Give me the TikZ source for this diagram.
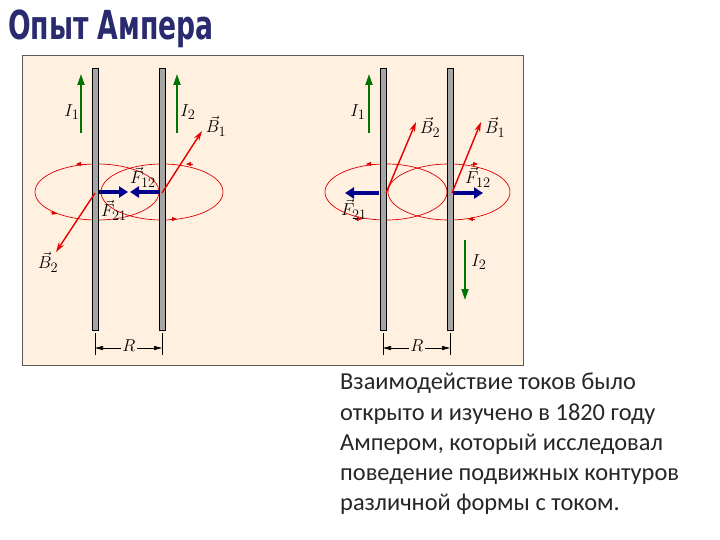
\documentclass[tikz,border=0pt]{standalone}
\usepackage{fontspec}
\setsansfont{Carlito}
\newfontfamily\titlefont{DejaVu Sans Condensed}
\usetikzlibrary{arrows.meta}
\begin{document}
\begin{tikzpicture}[x=1pt,y=-1pt,
  wire/.style={fill=gray!70,draw=black,line width=0.9pt},
  cur/.style={draw=green!45!black,line width=1.8pt,-{Triangle[length=11pt,width=7pt]}},
  field/.style={draw=red!90!black,line width=1.4pt,-{Stealth[length=10pt,width=6pt]}},
  loop/.style={draw=red!85!black,line width=0.7pt},
  tick/.style={draw=red!85!black,-{Triangle[length=5pt,width=4pt]}},
  force/.style={draw=blue!55!black,line width=4.5pt,-{Triangle[length=9pt,width=11pt]}},
  lab/.style={font=\fontsize{19}{19}\selectfont,inner sep=0},
  dim/.style={draw=black,line width=0.7pt,{Triangle[length=8pt,width=4pt]}-{Triangle[length=8pt,width=4pt]}}]
\useasboundingbox (0,0) rectangle (720,540);
\node[anchor=west,font=\titlefont\bfseries\fontsize{40}{40}\selectfont,text=gray!55!blue!60!black,inner sep=0,xscale=0.74] (title) at (8,29) {Опыт Ампера};
\draw[fill=orange!12,draw=gray!70!black,line width=0.6pt] (22,55) rectangle (523,365);
% left panel
\draw[loop] (97,192) ellipse (62 and 28);
\draw[loop] (162,192) ellipse (61 and 28);
\draw[tick] (83,164)--(76,164);
\draw[tick] (50,212)--(57,214);
\draw[tick] (193,164)--(186,164);
\draw[tick] (170,219)--(177,219);
\filldraw[wire] (92,68) rectangle (98,330);
\filldraw[wire] (159,68) rectangle (165,330);
\draw[cur] (81,133)--(81,74);
\draw[cur] (177,133)--(177,74);
\node[lab] (i1) at (72,112) {$I_1$};
\node[lab] (i2) at (188,112) {$I_2$};
\coordinate (w1) at (95,193);
\coordinate (w2) at (162,193);
\draw[field] (w2)--(202,131);
\draw[field] (w1)--(56,252);
\node[lab] (b1) at (216,126) {$\vec B_1$};
\node[lab] (b2) at (48,262) {$\vec B_2$};
\draw[force] (99,192)--(128,192);
\draw[force] (159,192)--(130,192);
\node[lab] (f12) at (143,177) {$\vec F_{12}$};
\node[lab] (f21) at (114,210) {$\vec F_{21}$};
\draw (95,333)--(95,355) (162,333)--(162,355);
\draw[dim] (95,348)--(162,348);
\node[lab,fill=orange!12,inner sep=1pt] (r1) at (129,346) {$R$};
% right panel
\draw[loop] (386,192) ellipse (61 and 28);
\draw[loop] (449,192) ellipse (61 and 28);
\draw[tick] (373,164)--(366,164);
\draw[tick] (355,219)--(362,219);
\draw[tick] (471,164)--(478,164);
\draw[tick] (475,219)--(468,219);
\filldraw[wire] (380,68) rectangle (386,330);
\filldraw[wire] (447,68) rectangle (453,330);
\draw[cur] (369,133)--(369,74);
\draw[cur] (465,240)--(465,300);
\node[lab] (i1r) at (358,112) {$I_1$};
\node[lab] (i2r) at (479,262) {$I_2$};
\coordinate (v1) at (386,193);
\coordinate (v2) at (452,193);
\draw[field] (v1)--(416,122);
\draw[field] (v2)--(481,122);
\node[lab] (b2r) at (430,127) {$\vec B_2$};
\node[lab] (b1r) at (495,127) {$\vec B_1$};
\draw[force] (379,193)--(345,193);
\draw[force] (454,193)--(483,193);
\node[lab] (f21r) at (354,209) {$\vec F_{21}$};
\node[lab] (f12r) at (478,177) {$\vec F_{12}$};
\draw (383,333)--(383,355) (450,333)--(450,355);
\draw[dim] (383,348)--(450,348);
\node[lab,fill=orange!12,inner sep=1pt] (r2) at (417,346) {$R$};
% text
\node[anchor=north west,align=left,font=\sffamily\fontsize{24.4}{30.2}\selectfont,text=black!85,inner sep=0] (txt) at (340,373)
{Взаимодействие токов было\\открыто и изучено в 1820 году\\Ампером, который исследовал\\поведение подвижных контуров\\различной формы с током.};
\end{tikzpicture}
\end{document}
